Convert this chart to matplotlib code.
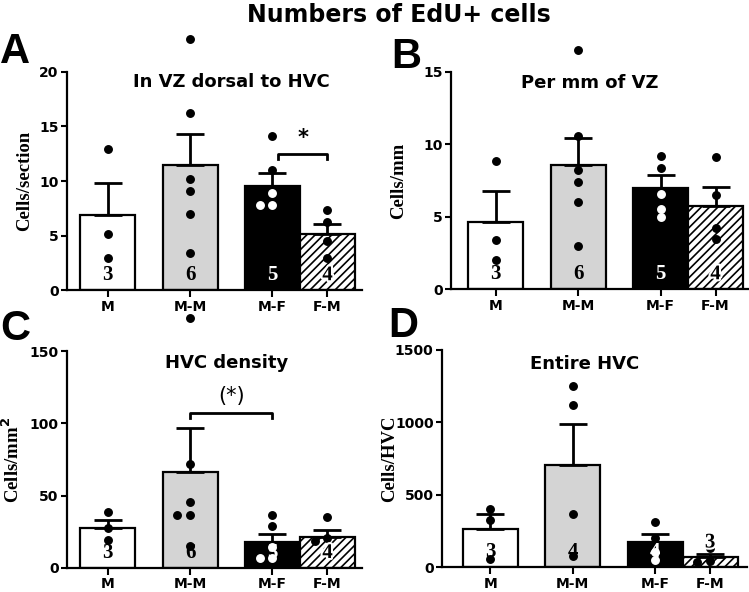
import matplotlib
matplotlib.use('Agg')
import matplotlib.pyplot as plt
import matplotlib.patheffects as pe
import numpy as np

groups = ['M', 'M-M', 'M-F', 'F-M']
xpos = [0, 1.5, 3, 4]
bar_colors = ['white', '#d4d4d4', 'black', 'white']

# A: In VZ dorsal to HVC (cells/section)
a_mean = [6.9, 11.5, 9.55, 5.1]
a_sem = [2.95, 2.8, 1.15, 1.0]
a_pts = [[12.9, 5.1, 2.9],
         [23.05, 16.2, 10.2, 9.1, 7.0, 3.4],
         [14.1, 11.0, 8.9, 7.8, 7.8],
         [7.3, 6.2, 4.5, 2.9]]
a_n = [3, 6, 5, 4]

# B: per mm of VZ
b_mean = [4.65, 8.55, 7.0, 5.75]
b_sem = [2.1, 1.9, 0.85, 1.3]
b_pts = [[8.85, 3.4, 1.98],
         [16.55, 10.57, 8.2, 7.4, 6.0, 2.94],
         [9.2, 8.35, 6.6, 5.56, 5.0],
         [9.1, 6.5, 4.2, 3.46]]
b_n = [3, 6, 5, 4]

# C: HVC density (cells/mm2)
c_mean = [27.7, 66.5, 17.5, 21.5]
c_sem = [5.3, 30.0, 5.8, 4.6]
c_pts = [[38.3, 27.7, 19.2],
         [173.0, 71.5, 45.7, 36.5, 36.5, 15.2],
         [36.5, 29.1, 14.5, 6.5, 6.5],
         [34.9, 20.5, 18.4, 12.2]]
c_n = [3, 6, 5, 4]

# D: entire HVC (cells/HVC)
d_mean = [264, 706, 172, 69]
d_sem = [104, 283, 56, 21]
d_pts = [[400, 327, 57],
         [1251, 1118, 366, 78],
         [308, 200, 104, 46],
         [131, 40, 36]]
d_n = [3, 4, 4, 3]

plt.rcParams['font.family'] = 'DejaVu Sans'
plt.rcParams['font.weight'] = 'bold'
plt.rcParams['hatch.linewidth'] = 1.2

W, H = 749, 592
fig = plt.figure(figsize=(W / 100, H / 100), dpi=100)

serif = 'Liberation Serif'


def swarm(vals, ymax, hpx, px_unit, d=7.5):
    placed, offs = [], []
    for v in vals:
        ypx = v / ymax * hpx
        for k in [0, -1, 1, -2, 2, -3, 3]:
            xo = k * d * 0.85
            if all((xo - p) ** 2 + (ypx - q) ** 2 >= d * d for p, q in placed):
                break
        placed.append((xo, ypx))
        offs.append(xo / px_unit)
    return offs


def panel(rect, xlim, ymax, yticks, mean, sem, pts, n, ylabel, title,
          tpos, ylab_x):
    ax = fig.add_axes(rect)
    bars = ax.bar(xpos, mean, width=1.0, color=bar_colors,
                  edgecolor='black', linewidth=1.6, zorder=2)
    bars[3].set_hatch('////')
    ax.errorbar(xpos, mean, yerr=[np.zeros(4), sem], fmt='none',
                ecolor='black', elinewidth=2, capsize=10, capthick=2,
                zorder=3)
    ax.set_xlim(*xlim)
    ax.set_ylim(0, ymax)
    hpx = rect[3] * H
    px_unit = rect[2] * W / (xlim[1] - xlim[0])
    for i, vals in enumerate(pts):
        offs = swarm(vals, ymax, hpx, px_unit)
        for v, o in zip(vals, offs):
            col = 'white' if (groups[i] == 'M-F' and v < mean[i]) else 'black'
            ax.plot(xpos[i] + o, v, 'o', ms=5.4, color=col, mec=col,
                    zorder=5, clip_on=False)
        # n per group
        if mean[i] < 0.08 * ymax:
            ny = mean[i] + sem[i] + 0.03 * ymax
        else:
            ny = 0.045 * ymax
        ncol = 'white' if groups[i] == 'M-F' else 'black'
        t = ax.text(xpos[i], ny, str(n[i]), ha='center', va='baseline',
                    fontsize=15, fontweight='bold', family=serif,
                    color=ncol, zorder=6)
        if groups[i] == 'F-M':
            t.set_path_effects([pe.withStroke(linewidth=3, foreground='white')])
    ax.set_xticks(xpos)
    ax.set_xticklabels(groups, fontsize=10, fontweight='bold')
    ax.set_yticks(yticks)
    ax.set_yticklabels([str(v) for v in yticks], fontsize=10,
                       fontweight='bold')
    ax.tick_params(axis='y', length=4, width=1.5, pad=2)
    ax.tick_params(axis='x', length=5, width=1.5, pad=2)
    for s in ['top', 'right']:
        ax.spines[s].set_visible(False)
    for s in ['left', 'bottom']:
        ax.spines[s].set_linewidth(1.6)
    ax.set_ylabel(ylabel, family=serif, fontweight='bold', fontsize=13.5)
    ax.yaxis.set_label_coords(ylab_x, 0.5)
    ax.text(tpos[0], tpos[1], title, transform=ax.transAxes, ha='center',
            va='center', fontsize=13, fontweight='bold')
    return ax


axA = panel([0.0895, 0.5101, 0.394, 0.3683], (-0.736, 4.63), 20,
            [0, 5, 10, 15, 20], a_mean, a_sem, a_pts, a_n,
            'Cells/section', 'In VZ dorsal to HVC', (0.556, 0.954), -0.115)
axB = panel([0.6021, 0.5118, 0.3965, 0.3666], (-0.81, 4.59), 15,
            [0, 5, 10, 15], b_mean, b_sem, b_pts, b_n,
            'Cells/mm', 'Per mm of VZ', (0.468, 0.949), -0.148)
axC = panel([0.0895, 0.0410, 0.394, 0.3660], (-0.736, 4.63), 150,
            [0, 50, 100, 150], c_mean, c_sem, c_pts, c_n,
            r'Cells/mm$^\mathbf{2}$', 'HVC density', (0.542, 0.945), -0.149)
axD = panel([0.5901, 0.0422, 0.4072, 0.3666], (-0.88, 4.67), 1500,
            [0, 500, 1000, 1500], d_mean, d_sem, d_pts, d_n,
            'Cells/HVC', 'Entire HVC', (0.469, 0.935), -0.144)

# significance brackets
axA.plot([3.1, 3.1, 4.0, 4.0], [12.0, 12.5, 12.5, 12.0], color='black',
         lw=2, zorder=4)
axA.text(3.55, 13.0, '*', ha='center', va='bottom', fontsize=15,
         fontweight='bold')
axC.plot([1.5, 1.5, 3.0, 3.0], [103.5, 107.3, 107.3, 103.5], color='black',
         lw=2, zorder=4)
axC.text(2.25, 119, '(*)', ha='center', va='center', fontsize=15,
         fontweight='normal')

fig.text(0.533, 0.975, 'Numbers of EdU+ cells', ha='center', va='center',
         fontsize=17, fontweight='bold')
for lx, ly, letter in [(0.0, 0.8936, 'A'), (0.523, 0.885, 'B'),
                       (0.0, 0.4257, 'C'), (0.518, 0.4307, 'D')]:
    fig.text(lx, ly, letter, ha='left', va='baseline', fontsize=30,
             fontweight='bold', family='Liberation Sans')

fig.savefig('out.png', dpi=100)
